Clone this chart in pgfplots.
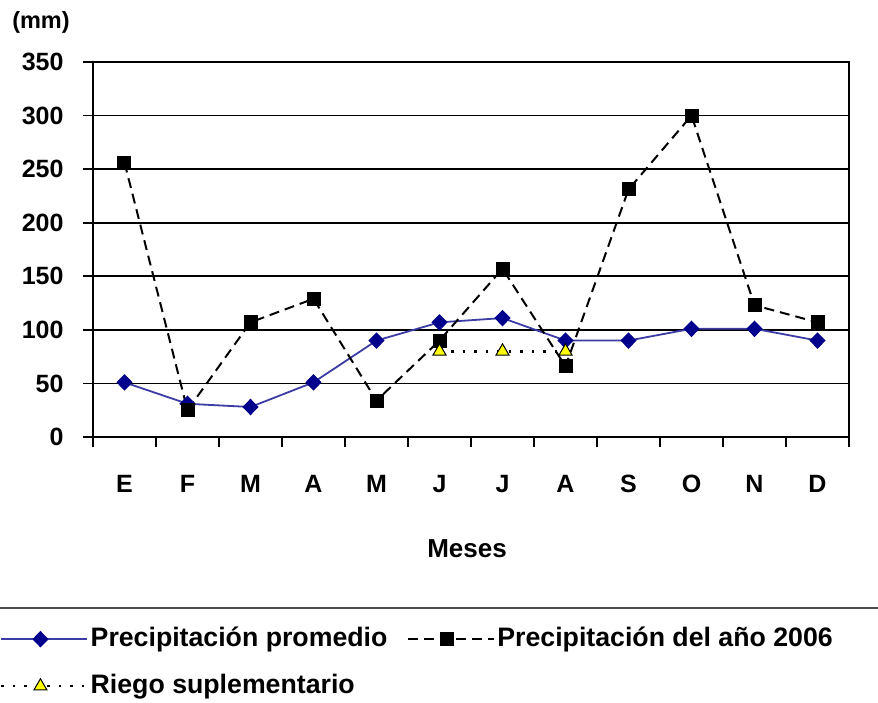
\documentclass[border=0pt]{standalone}
\usepackage{pgfplots}
\pgfplotsset{compat=1.18}
\usepackage{fontspec}
\setmainfont{Liberation Sans}
\definecolor{navyline}{RGB}{60,60,165}
\definecolor{navymark}{RGB}{0,0,140}
\definecolor{yel}{RGB}{255,255,0}
\begin{document}
\begin{tikzpicture}
\path[use as bounding box] (-93pt,-266pt) rectangle (785pt,437pt);
\begin{axis}[
 at={(0pt,0pt)}, anchor=south west,
 scale only axis, width=756pt, height=375pt,
 xmin=-0.5, xmax=11.5, ymin=0, ymax=350,
 xtick={-0.5,0.5,...,11.5},
 x tick label as interval,
 xticklabels={E,F,M,A,M,J,J,A,S,O,N,D},
 ytick={0,50,...,350},
 xtick pos=bottom, ytick pos=left,
 ymajorgrids,
 grid style={black, line width=1.8pt},
 axis line style={black, line width=1.9pt},
 tick style={black, line width=1.6pt},
 tick align=outside,
 major tick length=10pt,
 /pgf/number format/assume math mode=true,
 tick label style={font=\bfseries\fontsize{25}{30}\selectfont},
 xticklabel style={yshift=-25pt},
 yticklabel style={xshift=-16pt},
 clip=false,
 legend columns=2,
 legend cell align=left,
 legend style={at={(0,0)}, anchor=north west, xshift=-93pt, yshift=-188pt,
   draw=none, fill=none, inner sep=0pt,
   font=\bfseries\fontsize{26.7}{31}\selectfont,
   nodes={inner sep=2pt, text height=19pt, text depth=5pt},
   row sep=19pt,
   /tikz/every even column/.append style={column sep=18pt}},
 legend image code/.code={\draw[mark repeat=2,mark phase=2,#1] plot coordinates {(0pt,0pt) (39pt,0pt) (86pt,0pt)};},
]
\addplot[color=navyline, line width=1.8pt, mark=diamond*, mark size=7pt,
  mark options={solid, fill=navymark, draw=navymark, xscale=1.3}]
  coordinates {(0,51) (1,31) (2,28) (3,51) (4,90) (5,107) (6,111) (7,90) (8,90) (9,101) (10,101) (11,90)};
\addlegendentry{Precipitación promedio}
\addplot[color=black, line width=2pt, dash pattern=on 10pt off 6pt, mark=square*, mark size=6pt,
  mark options={solid, fill=black}]
  coordinates {(0,256) (1,25) (2,107) (3,129) (4,34) (5,90) (6,157) (7,66) (8,231) (9,300) (10,123) (11,107)};
\addlegendentry{Precipitación del año 2006}
\addplot[color=black, line width=2.5pt, dash pattern=on 2.5pt off 9pt, mark=triangle*, mark size=7.5pt,
  mark options={solid, fill=yel, draw=black, line width=1pt}]
  coordinates {(5,80) (6,80) (7,80)};
\addlegendentry{Riego suplementario}
\end{axis}
\node[font=\bfseries\fontsize{23.5}{28}\selectfont] at (-52pt,415pt) {(mm)};
\node[font=\bfseries\fontsize{26}{30}\selectfont] at (374pt,-112pt) {Meses};
\draw[line width=2pt, black!70] (-93pt,-171pt) -- (785pt,-171pt);
\end{tikzpicture}
\end{document}
